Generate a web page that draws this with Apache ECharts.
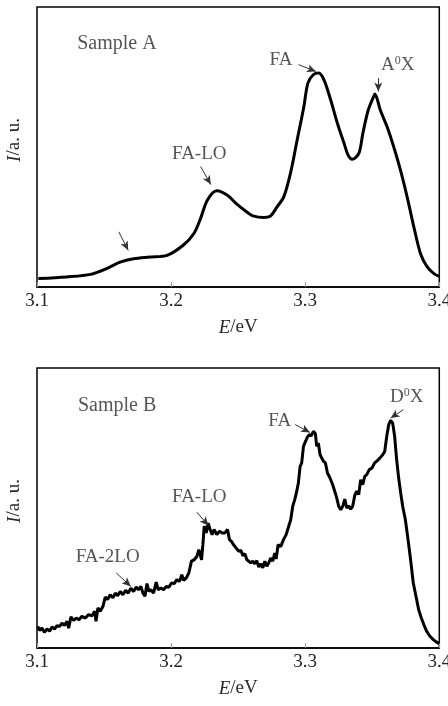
<!DOCTYPE html>
<html>
  <head>
    <meta charset="utf-8" />
    <title>PL spectra</title>
    <script src="https://cdn.jsdelivr.net/npm/echarts@6/dist/echarts.min.js"></script>
    <style>
      html, body { margin: 0; padding: 0; background: #fff; }
      #chart { width: 448px; height: 706px; }
    </style>
  </head>
  <body>
    <div id="chart"></div>
    <script type="text/javascript">
      // photon energy (eV) and intensity (a.u., 0..100 of the frame height)
      const energyA = [3.101, 3.122, 3.140, 3.152, 3.162, 3.172, 3.184, 3.197, 3.209, 3.217, 3.222, 3.227, 3.234, 3.242, 3.249, 3.257, 3.261, 3.269, 3.274, 3.279, 3.284, 3.289, 3.294, 3.299, 3.302, 3.306, 3.310, 3.314, 3.319, 3.324, 3.329, 3.332, 3.335, 3.340, 3.343, 3.347, 3.351, 3.352, 3.356, 3.361, 3.366, 3.371, 3.376, 3.381, 3.386, 3.391, 3.396, 3.400]
      const intensityA = [3.0, 3.6, 4.5, 6.6, 8.9, 10.1, 10.7, 11.3, 14.9, 19.1, 24.5, 31.0, 34.4, 32.8, 29.6, 26.6, 25.4, 24.8, 25.3, 28.6, 32.2, 40.6, 52.5, 64.4, 72.8, 75.8, 76.4, 74.0, 66.8, 58.5, 51.3, 47.1, 45.6, 47.7, 54.9, 63.2, 68.0, 68.9, 63.2, 57.3, 50.1, 41.8, 32.2, 21.5, 11.9, 7.2, 4.8, 3.8]

      const energyB = [3.1005, 3.102, 3.1037, 3.1055, 3.1075, 3.1094, 3.1112, 3.1132, 3.1149, 3.1169, 3.1186, 3.1204, 3.1224, 3.1236, 3.1253, 3.1273, 3.1293, 3.1313, 3.1335, 3.136, 3.1385, 3.141, 3.143, 3.144, 3.1454, 3.1472, 3.1492, 3.1509, 3.1526, 3.1546, 3.1566, 3.1584, 3.1601, 3.1621, 3.1641, 3.1661, 3.168, 3.17, 3.172, 3.174, 3.1757, 3.1775, 3.179, 3.1805, 3.182, 3.1834, 3.1849, 3.1869, 3.1889, 3.1904, 3.1924, 3.1944, 3.1964, 3.1983, 3.2003, 3.2023, 3.2043, 3.2063, 3.208, 3.2093, 3.2113, 3.2132, 3.2152, 3.2172, 3.2192, 3.2207, 3.2217, 3.2227, 3.2237, 3.2247, 3.2262, 3.2276, 3.2291, 3.2306, 3.2321, 3.2341, 3.2361, 3.2381, 3.2401, 3.2421, 3.2435, 3.245, 3.2465, 3.2485, 3.2505, 3.252, 3.2535, 3.255, 3.2565, 3.2579, 3.2594, 3.2609, 3.2624, 3.2639, 3.2654, 3.2669, 3.2684, 3.2699, 3.2714, 3.2728, 3.2743, 3.2758, 3.2773, 3.2783, 3.2798, 3.2818, 3.2838, 3.2858, 3.2877, 3.2892, 3.2907, 3.2922, 3.2937, 3.2949, 3.2962, 3.2974, 3.2987, 3.3002, 3.3017, 3.3031, 3.3046, 3.3061, 3.3076, 3.3086, 3.3098, 3.3111, 3.3123, 3.3136, 3.3151, 3.3166, 3.3185, 3.3205, 3.322, 3.3235, 3.325, 3.3265, 3.328, 3.3295, 3.331, 3.3324, 3.3339, 3.3354, 3.3369, 3.3384, 3.3399, 3.3414, 3.3429, 3.3444, 3.3459, 3.3478, 3.3498, 3.3518, 3.3538, 3.3558, 3.3578, 3.3593, 3.3608, 3.3623, 3.3637, 3.3652, 3.3667, 3.3682, 3.3697, 3.3712, 3.3727, 3.3747, 3.3767, 3.3786, 3.3806, 3.3826, 3.3846, 3.3866, 3.3885, 3.3905, 3.393, 3.3955, 3.398, 3.4]
      const intensityB = [7.7, 6.3, 7.1, 5.6, 6.8, 6.0, 7.5, 6.8, 8.0, 7.7, 8.9, 8.1, 9.5, 7.1, 11.1, 9.9, 10.7, 10.1, 11.3, 10.7, 11.9, 11.5, 13.1, 9.5, 14.3, 13.1, 14.9, 18.2, 17.3, 19.0, 17.9, 19.6, 18.7, 20.2, 19.0, 20.6, 19.6, 21.4, 20.2, 21.8, 20.8, 22.0, 19.6, 18.5, 23.0, 20.2, 20.8, 19.6, 23.5, 20.8, 21.4, 20.8, 22.0, 21.7, 23.2, 23.0, 24.4, 23.8, 26.2, 24.2, 25.0, 26.8, 31.0, 31.5, 32.7, 35.1, 34.5, 31.5, 36.9, 43.5, 41.1, 44.6, 42.3, 40.5, 42.3, 40.5, 41.7, 41.1, 41.1, 42.3, 38.7, 38.1, 36.9, 35.7, 34.5, 34.9, 33.0, 33.7, 31.5, 32.1, 30.4, 31.0, 30.1, 31.2, 28.9, 30.1, 28.6, 31.0, 29.2, 30.4, 32.1, 31.0, 33.9, 31.8, 36.9, 36.3, 38.7, 40.5, 43.5, 45.8, 50.6, 53.0, 56.0, 58.9, 64.9, 66.1, 72.0, 73.8, 75.4, 76.2, 75.8, 77.4, 76.5, 72.0, 73.2, 69.0, 69.6, 66.7, 66.1, 62.5, 60.7, 58.3, 56.0, 53.6, 50.6, 49.4, 50.6, 53.2, 50.0, 50.8, 49.6, 50.6, 54.4, 56.0, 54.8, 60.1, 58.3, 61.3, 61.9, 63.7, 64.3, 66.1, 66.9, 67.9, 69.0, 70.2, 75.6, 79.8, 81.3, 80.4, 75.6, 67.3, 60.7, 55.4, 50.6, 45.8, 38.7, 31.5, 23.2, 18.5, 13.7, 10.7, 8.3, 6.0, 4.2, 3.0, 2.1, 1.5]

      const tickLabels = ["3.1", "3.2", "3.3", "3.4"]

      // annotation text: [label, E, I]
      const notesA = [["FA", 3.282, 81.1], ["A{s|0}X", 3.369, 79.4], ["FA-LO", 3.221, 47.5]]
      const notesB = [["FA", 3.281, 81.2], ["D{s|0}X", 3.3757, 89.6], ["FA-LO", 3.221, 53.8], ["FA-2LO", 3.1527, 32.5]]
      // arrows: [fromE, fromI, toE, toI]
      const arrowsA = [[3.295, 79.4, 3.308, 77.0], [3.3545, 74.6, 3.3545, 69.8], [3.222, 43.0, 3.2296, 36.6], [3.161, 19.7, 3.168, 13.1]]
      const arrowsB = [[3.2925, 79.8, 3.3036, 77.0], [3.3732, 85.1, 3.3637, 82.1], [3.2192, 48.5, 3.2279, 43.7], [3.1591, 26.8, 3.170, 22.0]]
      const sampleNames = [["Sample A", 3.130, 86.8], ["Sample B", 3.1305, 86.5]]

      const serif = "Liberation Serif"
      const textColor = "#2a2a2a"

      function zip(xs, ys) {
        return xs.map((x, i) => [x, ys[i]])
      }

      function arrowData(list) {
        return list.map(a => [{ coord: [a[0], a[1]] }, { coord: [a[2], a[3]] }])
      }

      const richText = {
        s: { fontFamily: serif, fontSize: 12, color: textColor, padding: [0, 0, 8, 0] }
      }

      function xAxisFor(idx) {
        return {
          type: "value",
          gridIndex: idx,
          min: 3.1,
          max: 3.4,
          interval: 0.1,
          name: "{i|E}/eV",
          nameLocation: "middle",
          nameGap: 31,
          nameTextStyle: {
            fontFamily: serif,
            fontSize: 19,
            color: textColor,
            rich: { i: { fontFamily: serif, fontSize: 19, fontStyle: "italic", color: textColor } }
          },
          axisLine: { show: true, onZero: false, lineStyle: { color: "#000", width: 1.5 } },
          axisTick: { show: true, inside: true, length: 5, lineStyle: { color: "#999", width: 1 } },
          axisLabel: {
            margin: 5,
            fontFamily: serif,
            fontSize: 19,
            color: "#222",
            formatter: v => tickLabels[Math.round((v - 3.1) * 10)]
          },
          splitLine: { show: false }
        }
      }

      function yAxisFor(idx) {
        return {
          type: "value",
          gridIndex: idx,
          min: 0,
          max: 100,
          name: "{i|I}/a. u.",
          nameLocation: "middle",
          nameRotate: 90,
          nameGap: 13,
          nameTextStyle: {
            fontFamily: serif,
            fontSize: 19,
            color: textColor,
            padding: [0, 0, 0, 14],
            rich: { i: { fontFamily: serif, fontSize: 19, fontStyle: "italic", color: textColor } }
          },
          axisLine: { show: false },
          axisTick: { show: false },
          axisLabel: { show: false },
          splitLine: { show: false }
        }
      }

      function curve(idx, data) {
        return {
          type: "line",
          xAxisIndex: idx,
          yAxisIndex: idx,
          data: data,
          showSymbol: false,
          smooth: idx === 0 ? 0.3 : false,
          lineStyle: { color: "#000", width: 3 },
          silent: true,
          z: 3,
          markLine: {
            silent: true,
            symbol: ["none", "arrow"],
            symbolSize: [6, 9],
            label: { show: false },
            lineStyle: { color: "#333", width: 1, type: "solid" },
            data: arrowData(idx === 0 ? arrowsA : arrowsB)
          }
        }
      }

      function labels(idx, notes) {
        return {
          type: "scatter",
          xAxisIndex: idx,
          yAxisIndex: idx,
          symbolSize: 0,
          silent: true,
          data: notes.map(n => ({ value: [n[1], n[2]], name: n[0] })),
          label: {
            show: true,
            position: "inside",
            formatter: p => p.name,
            fontFamily: serif,
            fontSize: 19,
            color: textColor,
            rich: richText
          }
        }
      }

      function sampleLabel(idx) {
        const s = sampleNames[idx]
        return {
          type: "scatter",
          xAxisIndex: idx,
          yAxisIndex: idx,
          symbolSize: 0,
          silent: true,
          data: [{ value: [s[1], s[2]], name: s[0] }],
          label: {
            show: true,
            position: "right",
            distance: 0,
            formatter: p => p.name,
            fontFamily: serif,
            fontSize: 20,
            color: textColor
          }
        }
      }

      const myChart = echarts.init(document.getElementById("chart"), null, { renderer: "canvas" })

      const option = {
        animation: false,
        backgroundColor: "#fff",
        grid: [
          { left: 37, right: 8.7, top: 7, height: 280, show: true, borderColor: "#000", borderWidth: 1.5, outerBoundsMode: "none", containLabel: false },
          { left: 37, right: 8.7, top: 368, height: 280, show: true, borderColor: "#000", borderWidth: 1.5, outerBoundsMode: "none", containLabel: false }
        ],
        xAxis: [xAxisFor(0), xAxisFor(1)],
        yAxis: [yAxisFor(0), yAxisFor(1)],
        series: [
          curve(0, zip(energyA, intensityA)),
          curve(1, zip(energyB, intensityB)),
          labels(0, notesA),
          labels(1, notesB),
          sampleLabel(0),
          sampleLabel(1)
        ]
      }
      myChart.setOption(option)
    </script>
  </body>
</html>
